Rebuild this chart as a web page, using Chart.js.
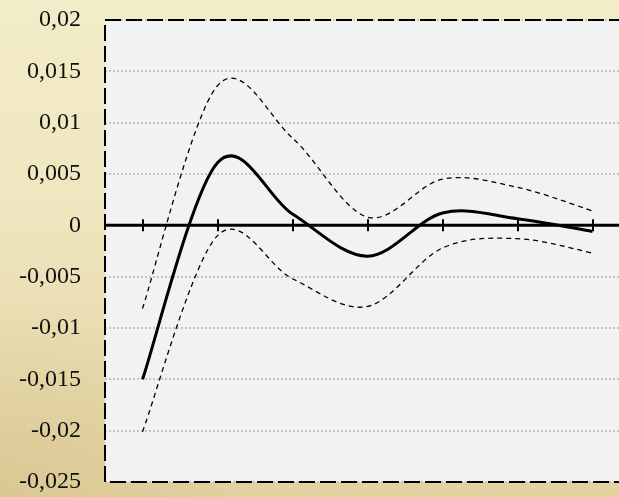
<!DOCTYPE html>
<html>
<head>
<meta charset="utf-8">
<script src="https://cdn.jsdelivr.net/npm/chart.js@4.4.1/dist/chart.umd.min.js"></script>
<style>
  html, body {
    margin: 0;
    padding: 0;
    width: 619px;
    height: 497px;
    overflow: hidden;
  }
  body {
    background:
      radial-gradient(ellipse 45% 40% at 0% 100%, rgba(210, 190, 135, 0.5) 0%, rgba(210, 190, 135, 0) 100%),
      linear-gradient(180deg, #f2ecc8 0%, #efe7c0 40%, #e9dcb0 70%, #e2d2a0 100%);
  }
  #wrap {
    width: 632px;
    height: 497px;
  }
</style>
</head>
<body>
<div id="wrap"><canvas id="grafica" width="632" height="497"></canvas></div>
<script>
// valores
const periodos = ['1', '2', '3', '4', '5', '6', '7'];
const estimacion = [-0.015, 0.0061, 0.0011, -0.003, 0.0012, 0.00065, -0.0006];
const limiteSup = [-0.0081, 0.0136, 0.0085, 0.0008, 0.0045, 0.0037, 0.0014];
const limiteInf = [-0.0201, -0.001, -0.0052, -0.0079, -0.0022, -0.0013, -0.0027];
const marcasY = [-0.025, -0.02, -0.015, -0.01, -0.005, 0, 0.005, 0.01, 0.015, 0.02];

// suavizado tipo Excel (catmull-rom) en vez del de chart.js
const suavizado = {
    id: 'suavizado',
    beforeDatasetsDraw(chart) {
        chart.data.datasets.forEach((ds, i) => {
            const meta = chart.getDatasetMeta(i);
            const pts = meta.data;
            meta.dataset.updateControlPoints(chart.chartArea, 'x');
            pts.forEach((p, j) => {
                const prev = pts[Math.max(j - 1, 0)];
                const next = pts[Math.min(j + 1, pts.length - 1)];
                const dx = (next.x - prev.x) / 6;
                const dy = (next.y - prev.y) / 6;
                p.cp1x = p.x - dx;
                p.cp1y = p.y - dy;
                p.cp2x = p.x + dx;
                p.cp2y = p.y + dy;
            });
            meta.dataset._path = undefined;
        });
    }
};

// fondo gris del area, eje en cero y marco punteado
const marco = {
    id: 'marco',
    beforeDraw(chart) {
        const { ctx, chartArea: a } = chart;
        ctx.save();
        ctx.fillStyle = '#f2f2f2';
        ctx.fillRect(a.left, a.top, a.right - a.left, a.bottom - a.top);
        ctx.restore();
    },
    beforeDatasetsDraw(chart) {
        const { ctx, chartArea: a, scales } = chart;
        const y0 = scales.y.getPixelForValue(0);
        ctx.save();
        ctx.strokeStyle = '#000';
        ctx.lineWidth = 3;
        ctx.beginPath();
        ctx.moveTo(a.left, y0);
        ctx.lineTo(a.right, y0);
        ctx.stroke();
        ctx.lineWidth = 2;
        periodos.forEach((p, i) => {
            const x = Math.round(scales.x.getPixelForValue(i));
            ctx.beginPath();
            ctx.moveTo(x, y0 - 6);
            ctx.lineTo(x, y0 + 6);
            ctx.stroke();
        });
        ctx.restore();
    },
    afterDraw(chart) {
        const { ctx, chartArea: a } = chart;
        ctx.save();
        ctx.strokeStyle = '#000';
        ctx.lineWidth = 2;
        ctx.setLineDash([16, 5]);
        ctx.strokeRect(a.left, a.top, a.right - a.left, a.bottom - a.top);
        ctx.restore();
    }
};

new Chart(document.getElementById('grafica'), {
    type: 'line',
    data: {
        labels: periodos,
        datasets: [
            {
                label: 'Estimación',
                data: estimacion,
                borderColor: '#000',
                borderWidth: 3,
                pointRadius: 0,
                tension: 0.4
            },
            {
                label: 'Límite superior',
                data: limiteSup,
                borderColor: '#000',
                borderWidth: 1.3,
                borderDash: [5, 4],
                pointRadius: 0,
                tension: 0.4
            },
            {
                label: 'Límite inferior',
                data: limiteInf,
                borderColor: '#000',
                borderWidth: 1.3,
                borderDash: [5, 4],
                pointRadius: 0,
                tension: 0.4
            }
        ]
    },
    options: {
        responsive: false,
        animation: false,
        layout: {
            padding: { top: 20, bottom: 15, left: 0, right: 2 }
        },
        plugins: {
            legend: { display: false },
            tooltip: { enabled: false }
        },
        scales: {
            x: {
                display: false,
                offset: true
            },
            y: {
                min: -0.025,
                max: 0.02,
                afterBuildTicks(scale) {
                    scale.ticks = marcasY.map(v => ({ value: v }));
                },
                afterFit(scale) {
                    scale.width = 105;
                    scale.paddingTop = 0;
                    scale.paddingBottom = 0;
                },
                border: { display: false, dash: [2, 2] },
                grid: {
                    color: '#c4c4c4',
                    lineWidth: 2,
                    drawTicks: false
                },
                ticks: {
                    padding: 24,
                    color: '#111',
                    font: { family: '"Liberation Serif", "DejaVu Serif", serif', size: 24 },
                    callback: v => Number(v.toFixed(3)).toString().replace('.', ',')
                }
            }
        }
    },
    plugins: [suavizado, marco]
});
</script>
</body>
</html>
